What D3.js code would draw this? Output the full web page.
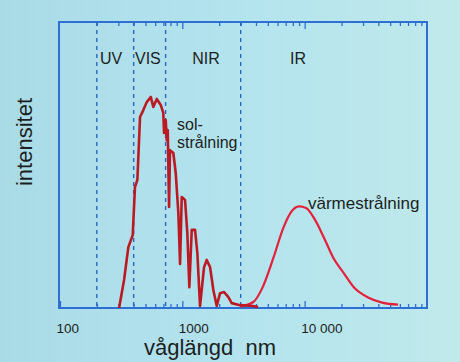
<!DOCTYPE html>
<html>
<head>
<meta charset="utf-8">
<script src="https://cdn.jsdelivr.net/npm/d3@7"></script>
<style>
  html, body { margin: 0; padding: 0; }
  body { width: 460px; height: 362px; overflow: hidden; }
  text { font-family: "Liberation Sans", Arial, sans-serif; fill: #1c1f22; }
</style>
</head>
<body>
<div id="my_dataviz"></div>
<script>
// wavelength (nm) and intensity (arbitrary units, 0-100)
var solarNm = [304, 334, 362, 393, 410, 429, 451, 480, 512, 552, 579, 618, 666, 699, 709, 732, 745, 760, 779, 793,
               844, 883, 928, 958, 989, 1052, 1099, 1141, 1194, 1270, 1327, 1395, 1505, 1583, 1685, 1793, 1911,
               2034, 2193, 2378, 2534, 2964, 3786, 4159];
var solarI  = [0, 9.8, 21.3, 25.5, 42.3, 44.8, 66.8, 69.2, 72.0, 73.8, 70.3, 73.1, 71.0, 68.2, 61.2, 65.7, 58.7, 62.2, 35.3, 55.2,
               54.2, 47.2, 33.2, 15.4, 38.8, 37.8, 26.2, 7.3, 27.3, 27.3, 19.2, 0.7, 14.3, 16.8, 14.3, 6.3, 0.7,
               5.2, 5.6, 3.8, 1.7, 1.0, 0.7, 0.3];

var thermalNm = [2964, 3808, 4460, 5548, 6694, 7714, 9000, 10270, 12160, 14410, 17170, 20730, 25830, 33000, 42950, 58020];
var thermalI  = [0.5, 2.1, 6.6, 17.5, 28.0, 33.4, 35.5, 35.0, 30.8, 24.5, 17.5, 12.4, 6.8, 3.7, 1.9, 1.2];

// region borders (nm) and region names
var borders = [200, 400, 730, 3000];
var regionNames = ["UV", "VIS", "NIR", "IR"];

// axis ticks
var majorTicks = [100, 1000, 10000];
var tickLabels = ["100", "1000", "10 000"];
var decades = [100, 1000, 10000];

var W = 460, H = 362;
var pLeft = 60, pRight = 427, pTop = 22, pBottom = 308;

var svg = d3.select("#my_dataviz")
  .append("svg")
    .attr("width", W)
    .attr("height", H);

// background (photo of a slide, light cyan)
var grad = svg.append("defs").append("linearGradient")
    .attr("id", "bg")
    .attr("x1", "0%").attr("y1", "0%")
    .attr("x2", "100%").attr("y2", "0%");
grad.append("stop").attr("offset", "0%").attr("stop-color", "#a9dbe7");
grad.append("stop").attr("offset", "55%").attr("stop-color", "#b4e4ee");
grad.append("stop").attr("offset", "100%").attr("stop-color", "#c0e9ea");
svg.append("rect")
    .attr("width", W).attr("height", H)
    .attr("fill", "url(#bg)");

var x = d3.scaleLog()
    .domain([100, 100000])
    .range([pLeft, pRight]);

var y = d3.scaleLinear()
    .domain([0, 100])
    .range([pBottom, pTop]);

var minorTicks = [];
decades.forEach(function(d) {
  for (var k = 2; k <= 9; k++) minorTicks.push(d * k);
});

var blue = "#2d6fd2";

// minor + major ticks, bottom and top, pointing inward
function ticks(axisFn, ty, vals, size, labels) {
  var ax = axisFn(x)
      .tickValues(vals)
      .tickSizeInner(-size)
      .tickSizeOuter(0)
      .tickPadding(15)
      .tickFormat(labels ? function(d, i) { return labels[i]; } : "");
  var g = svg.append("g")
      .attr("transform", "translate(0," + ty + ")")
      .call(ax);
  g.select(".domain").remove();
  g.selectAll("line").attr("stroke", blue).attr("stroke-width", 1.3);
  return g;
}
ticks(d3.axisBottom, pBottom, minorTicks, 4);
var bAx = ticks(d3.axisBottom, pBottom, majorTicks, 7, tickLabels);
bAx.selectAll("text")
    .attr("text-anchor", "start")
    .attr("dx", -4)
    .style("font-size", "13.5px")
    .style("font-family", "'Liberation Sans', Arial, sans-serif")
    .attr("fill", "#1c1f22");
ticks(d3.axisTop, pTop, minorTicks, 4);
ticks(d3.axisTop, pTop, majorTicks.slice(1), 7);

// region borders
svg.selectAll(".border")
  .data(borders)
  .enter()
  .append("line")
    .attr("x1", function(d) { return x(d); })
    .attr("x2", function(d) { return x(d); })
    .attr("y1", pTop)
    .attr("y2", pBottom)
    .attr("stroke", "#2a66c4")
    .attr("stroke-width", 1.4)
    .attr("stroke-dasharray", "4,4");

// plot frame
svg.append("rect")
    .attr("x", pLeft - 1)
    .attr("y", pTop)
    .attr("width", pRight - pLeft + 1)
    .attr("height", pBottom - pTop)
    .attr("fill", "none")
    .attr("stroke", blue)
    .attr("stroke-width", 2);

// region names
var regX = [212, 410, 1563, 8830];
var regAnchor = ["start", "start", "middle", "middle"];
svg.selectAll(".reg")
  .data(regionNames)
  .enter()
  .append("text")
    .attr("x", function(d, i) { return x(regX[i]); })
    .attr("y", 64)
    .attr("text-anchor", function(d, i) { return regAnchor[i]; })
    .style("font-size", "16px")
    .text(function(d) { return d; });

// curves
var line = d3.line()
    .x(function(d) { return x(d[0]); })
    .y(function(d) { return y(d[1]); });

svg.append("path")
    .datum(d3.zip(thermalNm, thermalI))
    .attr("fill", "none")
    .attr("stroke", "#e5203a")
    .attr("stroke-width", 2.2)
    .attr("stroke-linejoin", "round")
    .attr("d", line.curve(d3.curveMonotoneX));

svg.append("path")
    .datum(d3.zip(solarNm, solarI))
    .attr("fill", "none")
    .attr("stroke", "#bb1a22")
    .attr("stroke-width", 2.6)
    .attr("stroke-linejoin", "round")
    .attr("d", line.curve(d3.curveLinear));

// annotations
var sol = svg.append("text")
    .attr("x", 177).attr("y", 129.5)
    .style("font-size", "16px");
sol.append("tspan").attr("x", 177).text("sol-");
sol.append("tspan").attr("x", 177).attr("dy", 18.6).text("strålning");

svg.append("text")
    .attr("x", 308).attr("y", 209)
    .style("font-size", "17px")
    .text("värmestrålning");

// axis titles
svg.append("text")
    .attr("transform", "translate(32,142) rotate(-90)")
    .attr("text-anchor", "middle")
    .style("font-size", "22px")
    .text("intensitet");

svg.append("text")
    .attr("x", 210)
    .attr("y", 355)
    .attr("text-anchor", "middle")
    .style("font-size", "22px")
    .style("white-space", "pre")
    .text("våglängd  nm");
</script>
</body>
</html>
